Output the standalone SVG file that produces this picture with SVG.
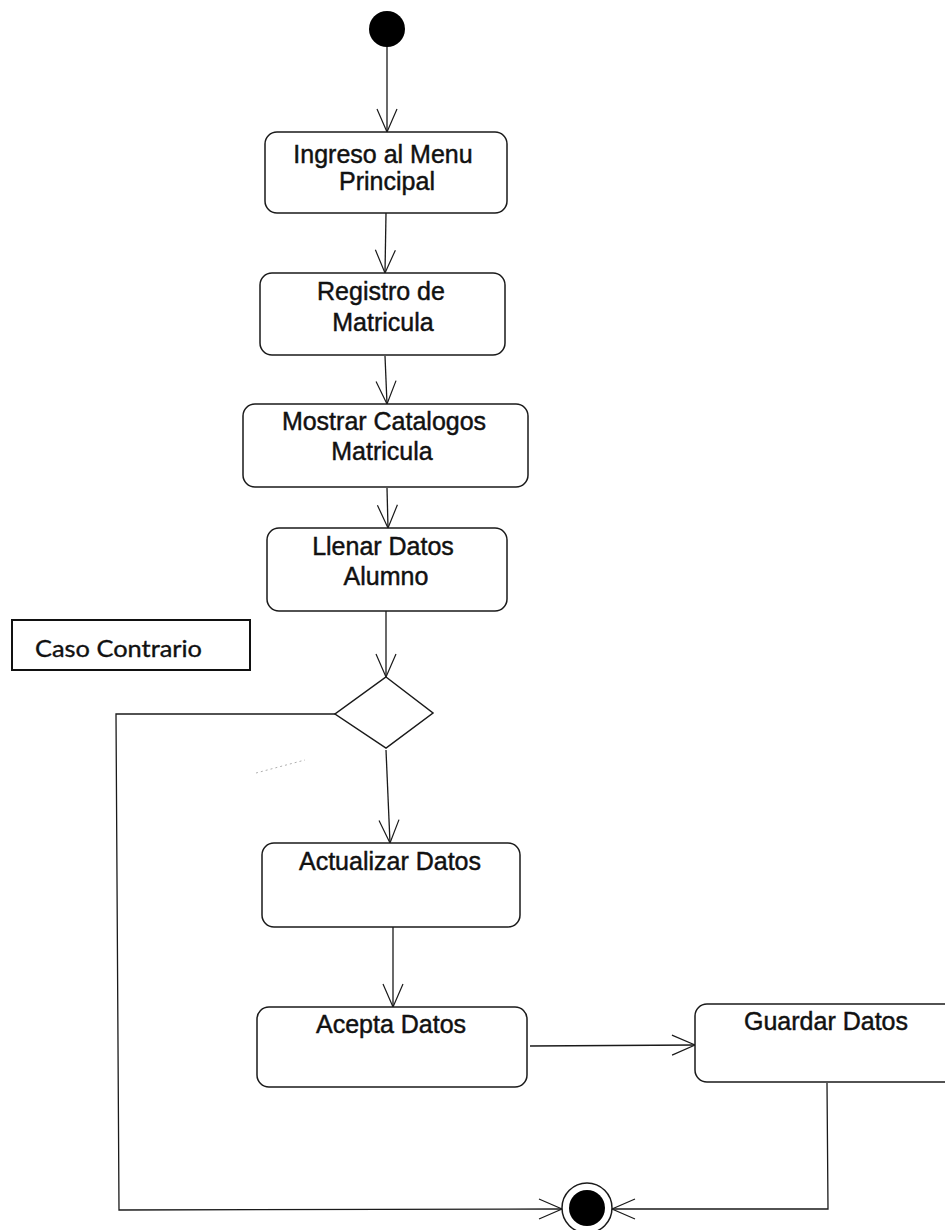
<svg xmlns="http://www.w3.org/2000/svg" width="945" height="1230" viewBox="0 0 945 1230">
  <defs>
    <style>
      .act { fill: #ffffff; stroke: #1a1a1a; stroke-width: 1.5; }
      .lbl { font-family: "Liberation Sans", Arial, sans-serif; font-size: 25px; fill: #111111; stroke: #111111; stroke-width: 0.45; text-anchor: middle; }
      .flow { fill: none; stroke: #1a1a1a; stroke-width: 1.3; }
      .note { fill: #ffffff; stroke: #111111; stroke-width: 2; }
      .notetxt { font-family: "Lato", "Open Sans", sans-serif; font-size: 23px; fill: #111111; stroke: #111111; stroke-width: 0.35; }
    </style>
    <marker id="open" viewBox="-25 -12 27 24" refX="0" refY="0" markerWidth="27" markerHeight="24" markerUnits="userSpaceOnUse" orient="auto">
      <path d="M-23,-10 L0,0 L-23,10" fill="none" stroke="#1a1a1a" stroke-width="1.2"/>
    </marker>
  </defs>

  <rect width="945" height="1230" fill="#ffffff"/>

  <!-- connectors -->
  <g id="connectors">
    <line class="flow" x1="387" y1="46" x2="387" y2="132" marker-end="url(#open)"/>
    <line class="flow" x1="386" y1="213" x2="385" y2="273" marker-end="url(#open)"/>
    <line class="flow" x1="385" y1="356" x2="387" y2="404" marker-end="url(#open)"/>
    <line class="flow" x1="387" y1="488" x2="388" y2="528" marker-end="url(#open)"/>
    <line class="flow" x1="386" y1="611" x2="386" y2="677" marker-end="url(#open)"/>
    <line class="flow" x1="386" y1="750" x2="390" y2="843" marker-end="url(#open)"/>
    <line class="flow" x1="393" y1="927" x2="393" y2="1007" marker-end="url(#open)"/>
    <line class="flow" x1="530" y1="1046" x2="695" y2="1045" marker-end="url(#open)"/>
    <polyline class="flow" points="335,714 116,714 119,1210 562,1209" marker-end="url(#open)"/>
    <polyline class="flow" points="827,1083 828,1209 612,1209" marker-end="url(#open)"/>
    <line x1="256" y1="773" x2="305" y2="760" stroke="#9a9a9a" stroke-width="0.8" stroke-dasharray="2 3"/>
  </g>

  <!-- start -->
  <g id="start">
    <circle cx="387" cy="29" r="18" fill="#000000"/>
  </g>

  <g id="ingreso">
    <rect class="act" x="265" y="132" width="242" height="81" rx="12"/>
    <text class="lbl" x="383" y="163">Ingreso al Menu</text>
    <text class="lbl" x="387" y="190">Principal</text>
  </g>

  <g id="registro">
    <rect class="act" x="260" y="273" width="245" height="82" rx="12"/>
    <text class="lbl" x="381" y="300">Registro de</text>
    <text class="lbl" x="383" y="331">Matricula</text>
  </g>

  <g id="catalogos">
    <rect class="act" x="243" y="404" width="285" height="83" rx="12"/>
    <text class="lbl" x="384" y="430">Mostrar Catalogos</text>
    <text class="lbl" x="382" y="460">Matricula</text>
  </g>

  <g id="llenar">
    <rect class="act" x="267" y="528" width="240" height="83" rx="12"/>
    <text class="lbl" x="383" y="555">Llenar Datos</text>
    <text class="lbl" x="386" y="585">Alumno</text>
  </g>

  <g id="caso-contrario">
    <rect class="note" x="12" y="620" width="238" height="50"/>
    <text class="notetxt" x="35" y="657" textLength="167" lengthAdjust="spacingAndGlyphs">Caso Contrario</text>
  </g>

  <g id="decision">
    <polygon class="act" points="386,677 433,713 386,748 335,714" stroke-width="1.3"/>
  </g>

  <g id="actualizar">
    <rect class="act" x="262" y="843" width="258" height="84" rx="12"/>
    <text class="lbl" x="390" y="870">Actualizar Datos</text>
  </g>

  <g id="acepta">
    <rect class="act" x="257" y="1007" width="270" height="80" rx="12"/>
    <text class="lbl" x="391" y="1033">Acepta Datos</text>
  </g>

  <g id="guardar">
    <rect class="act" x="695" y="1004" width="262" height="78" rx="12"/>
    <text class="lbl" x="826" y="1030">Guardar Datos</text>
  </g>

  <!-- end -->
  <g id="end">
    <circle cx="587" cy="1208" r="25" fill="#ffffff" stroke="#1a1a1a" stroke-width="1.5"/>
    <circle cx="587" cy="1208" r="18" fill="#000000"/>
  </g>
</svg>
